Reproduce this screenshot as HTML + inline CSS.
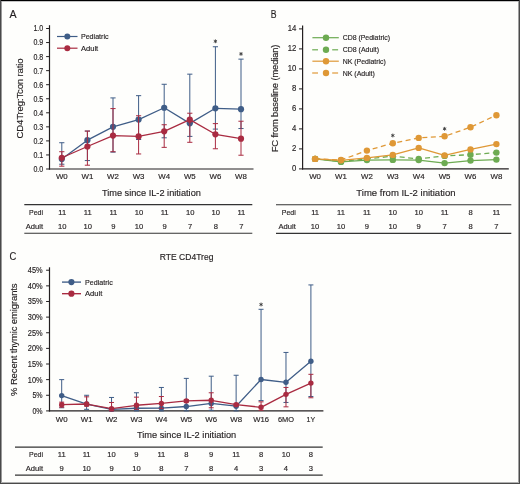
<!DOCTYPE html>
<html><head><meta charset="utf-8"><style>
html,body{margin:0;padding:0;background:#fefefc;}
#fig{position:absolute;left:0;top:0;width:520px;height:484px;overflow:hidden;background:#fefefc;}
svg text{font-family:"Liberation Sans", sans-serif;stroke:#231f20;stroke-width:0.16px;}
</style></head><body>
<div id="fig">
<svg width="520" height="484" viewBox="0 0 520 484" style="position:absolute;left:0;top:0;will-change:transform">
<text x="9.6" y="17.6" font-size="11.5" text-anchor="start" textLength="7.1" lengthAdjust="spacingAndGlyphs" fill="#231f20" >A</text>

<line x1="49.5" y1="25.2" x2="49.5" y2="169.6" stroke="#231f20" stroke-width="1.2" />
<line x1="48.9" y1="169.0" x2="253.5" y2="169.0" stroke="#231f20" stroke-width="1.2" />
<line x1="46.1" y1="169.0" x2="49.5" y2="169.0" stroke="#231f20" stroke-width="1.0" />
<text x="43.2" y="171.9" font-size="8.3" text-anchor="end" textLength="9.8" lengthAdjust="spacingAndGlyphs" fill="#231f20" >0.0</text>
<line x1="46.1" y1="154.95" x2="49.5" y2="154.95" stroke="#231f20" stroke-width="1.0" />
<text x="43.2" y="157.85" font-size="8.3" text-anchor="end" textLength="9.8" lengthAdjust="spacingAndGlyphs" fill="#231f20" >0.1</text>
<line x1="46.1" y1="140.9" x2="49.5" y2="140.9" stroke="#231f20" stroke-width="1.0" />
<text x="43.2" y="143.8" font-size="8.3" text-anchor="end" textLength="9.8" lengthAdjust="spacingAndGlyphs" fill="#231f20" >0.2</text>
<line x1="46.1" y1="126.85" x2="49.5" y2="126.85" stroke="#231f20" stroke-width="1.0" />
<text x="43.2" y="129.75" font-size="8.3" text-anchor="end" textLength="9.8" lengthAdjust="spacingAndGlyphs" fill="#231f20" >0.3</text>
<line x1="46.1" y1="112.8" x2="49.5" y2="112.8" stroke="#231f20" stroke-width="1.0" />
<text x="43.2" y="115.7" font-size="8.3" text-anchor="end" textLength="9.8" lengthAdjust="spacingAndGlyphs" fill="#231f20" >0.4</text>
<line x1="46.1" y1="98.75" x2="49.5" y2="98.75" stroke="#231f20" stroke-width="1.0" />
<text x="43.2" y="101.65" font-size="8.3" text-anchor="end" textLength="9.8" lengthAdjust="spacingAndGlyphs" fill="#231f20" >0.5</text>
<line x1="46.1" y1="84.7" x2="49.5" y2="84.7" stroke="#231f20" stroke-width="1.0" />
<text x="43.2" y="87.60000000000001" font-size="8.3" text-anchor="end" textLength="9.8" lengthAdjust="spacingAndGlyphs" fill="#231f20" >0.6</text>
<line x1="46.1" y1="70.65" x2="49.5" y2="70.65" stroke="#231f20" stroke-width="1.0" />
<text x="43.2" y="73.55000000000001" font-size="8.3" text-anchor="end" textLength="9.8" lengthAdjust="spacingAndGlyphs" fill="#231f20" >0.7</text>
<line x1="46.1" y1="56.599999999999994" x2="49.5" y2="56.599999999999994" stroke="#231f20" stroke-width="1.0" />
<text x="43.2" y="59.49999999999999" font-size="8.3" text-anchor="end" textLength="9.8" lengthAdjust="spacingAndGlyphs" fill="#231f20" >0.8</text>
<line x1="46.1" y1="42.55" x2="49.5" y2="42.55" stroke="#231f20" stroke-width="1.0" />
<text x="43.2" y="45.449999999999996" font-size="8.3" text-anchor="end" textLength="9.8" lengthAdjust="spacingAndGlyphs" fill="#231f20" >0.9</text>
<line x1="46.1" y1="28.5" x2="49.5" y2="28.5" stroke="#231f20" stroke-width="1.0" />
<text x="43.2" y="31.4" font-size="8.3" text-anchor="end" textLength="9.8" lengthAdjust="spacingAndGlyphs" fill="#231f20" >1.0</text>
<text transform="translate(22.8,98.5) rotate(-90)" x="0" y="0" font-size="9.6" text-anchor="middle" textLength="80" lengthAdjust="spacing" fill="#231f20" >CD4Treg:Tcon ratio</text>
<text x="61.8" y="179.0" font-size="8.0" text-anchor="middle" textLength="11.8" lengthAdjust="spacingAndGlyphs" fill="#231f20" >W0</text>
<text x="87.4" y="179.0" font-size="8.0" text-anchor="middle" textLength="11.8" lengthAdjust="spacingAndGlyphs" fill="#231f20" >W1</text>
<text x="113.0" y="179.0" font-size="8.0" text-anchor="middle" textLength="11.8" lengthAdjust="spacingAndGlyphs" fill="#231f20" >W2</text>
<text x="138.60000000000002" y="179.0" font-size="8.0" text-anchor="middle" textLength="11.8" lengthAdjust="spacingAndGlyphs" fill="#231f20" >W3</text>
<text x="164.2" y="179.0" font-size="8.0" text-anchor="middle" textLength="11.8" lengthAdjust="spacingAndGlyphs" fill="#231f20" >W4</text>
<text x="189.8" y="179.0" font-size="8.0" text-anchor="middle" textLength="11.8" lengthAdjust="spacingAndGlyphs" fill="#231f20" >W5</text>
<text x="215.40000000000003" y="179.0" font-size="8.0" text-anchor="middle" textLength="11.8" lengthAdjust="spacingAndGlyphs" fill="#231f20" >W6</text>
<text x="241.0" y="179.0" font-size="8.0" text-anchor="middle" textLength="11.8" lengthAdjust="spacingAndGlyphs" fill="#231f20" >W8</text>
<text x="151.4" y="196.1" font-size="9.8" text-anchor="middle" textLength="99" lengthAdjust="spacingAndGlyphs" fill="#231f20" >Time since IL-2 initiation</text>
<line x1="24.3" y1="204.6" x2="252.3" y2="204.6" stroke="#333" stroke-width="1.1" />
<line x1="24.3" y1="233.3" x2="252.3" y2="233.3" stroke="#333" stroke-width="1.1" />
<text x="43" y="215.0" font-size="7.6" text-anchor="end" textLength="14" lengthAdjust="spacingAndGlyphs" fill="#231f20" >Pedi</text>
<text x="43" y="229.4" font-size="7.6" text-anchor="end" textLength="17.3" lengthAdjust="spacingAndGlyphs" fill="#231f20" >Adult</text>
<text x="62.199999999999996" y="215.0" font-size="7.6" text-anchor="middle" fill="#231f20" >11</text>
<text x="62.199999999999996" y="229.4" font-size="7.6" text-anchor="middle" fill="#231f20" >10</text>
<text x="87.80000000000001" y="215.0" font-size="7.6" text-anchor="middle" fill="#231f20" >11</text>
<text x="87.80000000000001" y="229.4" font-size="7.6" text-anchor="middle" fill="#231f20" >10</text>
<text x="113.4" y="215.0" font-size="7.6" text-anchor="middle" fill="#231f20" >11</text>
<text x="113.4" y="229.4" font-size="7.6" text-anchor="middle" fill="#231f20" >9</text>
<text x="139.00000000000003" y="215.0" font-size="7.6" text-anchor="middle" fill="#231f20" >10</text>
<text x="139.00000000000003" y="229.4" font-size="7.6" text-anchor="middle" fill="#231f20" >10</text>
<text x="164.6" y="215.0" font-size="7.6" text-anchor="middle" fill="#231f20" >11</text>
<text x="164.6" y="229.4" font-size="7.6" text-anchor="middle" fill="#231f20" >9</text>
<text x="190.20000000000002" y="215.0" font-size="7.6" text-anchor="middle" fill="#231f20" >10</text>
<text x="190.20000000000002" y="229.4" font-size="7.6" text-anchor="middle" fill="#231f20" >7</text>
<text x="215.80000000000004" y="215.0" font-size="7.6" text-anchor="middle" fill="#231f20" >10</text>
<text x="215.80000000000004" y="229.4" font-size="7.6" text-anchor="middle" fill="#231f20" >8</text>
<text x="241.4" y="215.0" font-size="7.6" text-anchor="middle" fill="#231f20" >11</text>
<text x="241.4" y="229.4" font-size="7.6" text-anchor="middle" fill="#231f20" >7</text>
<line x1="61.8" y1="142.7265" x2="61.8" y2="164.223" stroke="#3f5d87" stroke-width="1.0" />
<line x1="59.199999999999996" y1="142.7265" x2="64.39999999999999" y2="142.7265" stroke="#3f5d87" stroke-width="1.0" />
<line x1="59.199999999999996" y1="164.223" x2="64.39999999999999" y2="164.223" stroke="#3f5d87" stroke-width="1.0" />
<line x1="87.4" y1="131.065" x2="87.4" y2="160.57" stroke="#3f5d87" stroke-width="1.0" />
<line x1="84.80000000000001" y1="131.065" x2="90.0" y2="131.065" stroke="#3f5d87" stroke-width="1.0" />
<line x1="84.80000000000001" y1="160.57" x2="90.0" y2="160.57" stroke="#3f5d87" stroke-width="1.0" />
<line x1="113.0" y1="97.907" x2="113.0" y2="152.14" stroke="#3f5d87" stroke-width="1.0" />
<line x1="110.4" y1="97.907" x2="115.6" y2="97.907" stroke="#3f5d87" stroke-width="1.0" />
<line x1="110.4" y1="152.14" x2="115.6" y2="152.14" stroke="#3f5d87" stroke-width="1.0" />
<line x1="138.60000000000002" y1="95.65899999999999" x2="138.60000000000002" y2="139.495" stroke="#3f5d87" stroke-width="1.0" />
<line x1="136.00000000000003" y1="95.65899999999999" x2="141.20000000000002" y2="95.65899999999999" stroke="#3f5d87" stroke-width="1.0" />
<line x1="136.00000000000003" y1="139.495" x2="141.20000000000002" y2="139.495" stroke="#3f5d87" stroke-width="1.0" />
<line x1="164.2" y1="84.27850000000001" x2="164.2" y2="137.809" stroke="#3f5d87" stroke-width="1.0" />
<line x1="161.6" y1="84.27850000000001" x2="166.79999999999998" y2="84.27850000000001" stroke="#3f5d87" stroke-width="1.0" />
<line x1="161.6" y1="137.809" x2="166.79999999999998" y2="137.809" stroke="#3f5d87" stroke-width="1.0" />
<line x1="189.8" y1="74.1625" x2="189.8" y2="136.404" stroke="#3f5d87" stroke-width="1.0" />
<line x1="187.20000000000002" y1="74.1625" x2="192.4" y2="74.1625" stroke="#3f5d87" stroke-width="1.0" />
<line x1="187.20000000000002" y1="136.404" x2="192.4" y2="136.404" stroke="#3f5d87" stroke-width="1.0" />
<line x1="215.40000000000003" y1="46.765" x2="215.40000000000003" y2="129.098" stroke="#3f5d87" stroke-width="1.0" />
<line x1="212.80000000000004" y1="46.765" x2="218.00000000000003" y2="46.765" stroke="#3f5d87" stroke-width="1.0" />
<line x1="212.80000000000004" y1="129.098" x2="218.00000000000003" y2="129.098" stroke="#3f5d87" stroke-width="1.0" />
<line x1="241.0" y1="59.12899999999999" x2="241.0" y2="128.536" stroke="#3f5d87" stroke-width="1.0" />
<line x1="238.4" y1="59.12899999999999" x2="243.6" y2="59.12899999999999" stroke="#3f5d87" stroke-width="1.0" />
<line x1="238.4" y1="128.536" x2="243.6" y2="128.536" stroke="#3f5d87" stroke-width="1.0" />
<polyline points="61.80,159.02 87.40,140.20 113.00,126.85 138.60,119.54 164.20,107.74 189.80,123.34 215.40,108.30 241.00,109.15" fill="none" stroke="#3f5d87" stroke-width="1.3" stroke-linejoin="round"/>
<circle cx="61.80" cy="159.02" r="3.1" fill="#3f5d87"/>
<circle cx="87.40" cy="140.20" r="3.1" fill="#3f5d87"/>
<circle cx="113.00" cy="126.85" r="3.1" fill="#3f5d87"/>
<circle cx="138.60" cy="119.54" r="3.1" fill="#3f5d87"/>
<circle cx="164.20" cy="107.74" r="3.1" fill="#3f5d87"/>
<circle cx="189.80" cy="123.34" r="3.1" fill="#3f5d87"/>
<circle cx="215.40" cy="108.30" r="3.1" fill="#3f5d87"/>
<circle cx="241.00" cy="109.15" r="3.1" fill="#3f5d87"/>
<line x1="61.8" y1="151.7185" x2="61.8" y2="166.19" stroke="#a92b41" stroke-width="1.0" />
<line x1="59.199999999999996" y1="151.7185" x2="64.39999999999999" y2="151.7185" stroke="#a92b41" stroke-width="1.0" />
<line x1="59.199999999999996" y1="166.19" x2="64.39999999999999" y2="166.19" stroke="#a92b41" stroke-width="1.0" />
<line x1="87.4" y1="131.065" x2="87.4" y2="165.2065" stroke="#a92b41" stroke-width="1.0" />
<line x1="84.80000000000001" y1="131.065" x2="90.0" y2="131.065" stroke="#a92b41" stroke-width="1.0" />
<line x1="84.80000000000001" y1="165.2065" x2="90.0" y2="165.2065" stroke="#a92b41" stroke-width="1.0" />
<line x1="113.0" y1="108.58500000000001" x2="113.0" y2="151.7185" stroke="#a92b41" stroke-width="1.0" />
<line x1="110.4" y1="108.58500000000001" x2="115.6" y2="108.58500000000001" stroke="#a92b41" stroke-width="1.0" />
<line x1="110.4" y1="151.7185" x2="115.6" y2="151.7185" stroke="#a92b41" stroke-width="1.0" />
<line x1="138.60000000000002" y1="115.7505" x2="138.60000000000002" y2="153.9665" stroke="#a92b41" stroke-width="1.0" />
<line x1="136.00000000000003" y1="115.7505" x2="141.20000000000002" y2="115.7505" stroke="#a92b41" stroke-width="1.0" />
<line x1="136.00000000000003" y1="153.9665" x2="141.20000000000002" y2="153.9665" stroke="#a92b41" stroke-width="1.0" />
<line x1="164.2" y1="124.7425" x2="164.2" y2="147.363" stroke="#a92b41" stroke-width="1.0" />
<line x1="161.6" y1="124.7425" x2="166.79999999999998" y2="124.7425" stroke="#a92b41" stroke-width="1.0" />
<line x1="161.6" y1="147.363" x2="166.79999999999998" y2="147.363" stroke="#a92b41" stroke-width="1.0" />
<line x1="189.8" y1="113.22149999999999" x2="189.8" y2="142.305" stroke="#a92b41" stroke-width="1.0" />
<line x1="187.20000000000002" y1="113.22149999999999" x2="192.4" y2="113.22149999999999" stroke="#a92b41" stroke-width="1.0" />
<line x1="187.20000000000002" y1="142.305" x2="192.4" y2="142.305" stroke="#a92b41" stroke-width="1.0" />
<line x1="215.40000000000003" y1="123.6185" x2="215.40000000000003" y2="148.768" stroke="#a92b41" stroke-width="1.0" />
<line x1="212.80000000000004" y1="123.6185" x2="218.00000000000003" y2="123.6185" stroke="#a92b41" stroke-width="1.0" />
<line x1="212.80000000000004" y1="148.768" x2="218.00000000000003" y2="148.768" stroke="#a92b41" stroke-width="1.0" />
<line x1="241.0" y1="121.22999999999999" x2="241.0" y2="155.231" stroke="#a92b41" stroke-width="1.0" />
<line x1="238.4" y1="121.22999999999999" x2="243.6" y2="121.22999999999999" stroke="#a92b41" stroke-width="1.0" />
<line x1="238.4" y1="155.231" x2="243.6" y2="155.231" stroke="#a92b41" stroke-width="1.0" />
<polyline points="61.80,157.76 87.40,146.52 113.00,135.56 138.60,136.40 164.20,131.35 189.80,119.68 215.40,134.30 241.00,138.65" fill="none" stroke="#a92b41" stroke-width="1.3" stroke-linejoin="round"/>
<circle cx="61.80" cy="157.76" r="3.1" fill="#a92b41"/>
<circle cx="87.40" cy="146.52" r="3.1" fill="#a92b41"/>
<circle cx="113.00" cy="135.56" r="3.1" fill="#a92b41"/>
<circle cx="138.60" cy="136.40" r="3.1" fill="#a92b41"/>
<circle cx="164.20" cy="131.35" r="3.1" fill="#a92b41"/>
<circle cx="189.80" cy="119.68" r="3.1" fill="#a92b41"/>
<circle cx="215.40" cy="134.30" r="3.1" fill="#a92b41"/>
<circle cx="241.00" cy="138.65" r="3.1" fill="#a92b41"/>
<path d="M215.40,39.40L215.40,43.20M217.05,40.35L213.75,42.25M217.05,42.25L213.75,40.35" stroke="#3a3a3a" stroke-width="0.9" fill="none"/>
<path d="M241.00,52.00L241.00,55.80M242.65,52.95L239.35,54.85M242.65,54.85L239.35,52.95" stroke="#3a3a3a" stroke-width="0.9" fill="none"/>
<line x1="57" y1="36.5" x2="77.5" y2="36.5" stroke="#3f5d87" stroke-width="1.2" />
<circle cx="67.30" cy="36.50" r="3.0" fill="#3f5d87"/>
<line x1="57" y1="48.2" x2="77.5" y2="48.2" stroke="#a92b41" stroke-width="1.2" />
<circle cx="67.30" cy="48.20" r="3.0" fill="#a92b41"/>
<text x="80.9" y="38.9" font-size="7.6" text-anchor="start" textLength="27.7" lengthAdjust="spacingAndGlyphs" fill="#231f20" >Pediatric</text>
<text x="80.9" y="50.7" font-size="7.6" text-anchor="start" textLength="17.3" lengthAdjust="spacingAndGlyphs" fill="#231f20" >Adult</text>
<text x="270.8" y="17.5" font-size="11.5" text-anchor="start" textLength="5.8" lengthAdjust="spacingAndGlyphs" fill="#231f20" >B</text>
<line x1="302.6" y1="25.6" x2="302.6" y2="169.5" stroke="#231f20" stroke-width="1.2" />
<line x1="302.0" y1="168.9" x2="508.8" y2="168.9" stroke="#231f20" stroke-width="1.2" />
<line x1="299.0" y1="168.9" x2="302.6" y2="168.9" stroke="#231f20" stroke-width="1.0" />
<text x="296.3" y="171.1" font-size="8.3" text-anchor="end" textLength="4.3" lengthAdjust="spacingAndGlyphs" fill="#231f20" >0</text>
<line x1="299.0" y1="148.9" x2="302.6" y2="148.9" stroke="#231f20" stroke-width="1.0" />
<text x="296.3" y="151.1" font-size="8.3" text-anchor="end" textLength="4.3" lengthAdjust="spacingAndGlyphs" fill="#231f20" >2</text>
<line x1="299.0" y1="128.9" x2="302.6" y2="128.9" stroke="#231f20" stroke-width="1.0" />
<text x="296.3" y="131.1" font-size="8.3" text-anchor="end" textLength="4.3" lengthAdjust="spacingAndGlyphs" fill="#231f20" >4</text>
<line x1="299.0" y1="108.9" x2="302.6" y2="108.9" stroke="#231f20" stroke-width="1.0" />
<text x="296.3" y="111.10000000000001" font-size="8.3" text-anchor="end" textLength="4.3" lengthAdjust="spacingAndGlyphs" fill="#231f20" >6</text>
<line x1="299.0" y1="88.9" x2="302.6" y2="88.9" stroke="#231f20" stroke-width="1.0" />
<text x="296.3" y="91.10000000000001" font-size="8.3" text-anchor="end" textLength="4.3" lengthAdjust="spacingAndGlyphs" fill="#231f20" >8</text>
<line x1="299.0" y1="68.9" x2="302.6" y2="68.9" stroke="#231f20" stroke-width="1.0" />
<text x="296.3" y="71.10000000000001" font-size="8.3" text-anchor="end" textLength="8.6" lengthAdjust="spacingAndGlyphs" fill="#231f20" >10</text>
<line x1="299.0" y1="48.900000000000006" x2="302.6" y2="48.900000000000006" stroke="#231f20" stroke-width="1.0" />
<text x="296.3" y="51.10000000000001" font-size="8.3" text-anchor="end" textLength="8.6" lengthAdjust="spacingAndGlyphs" fill="#231f20" >12</text>
<line x1="299.0" y1="28.900000000000006" x2="302.6" y2="28.900000000000006" stroke="#231f20" stroke-width="1.0" />
<text x="296.3" y="31.100000000000005" font-size="8.3" text-anchor="end" textLength="8.6" lengthAdjust="spacingAndGlyphs" fill="#231f20" >14</text>
<text transform="translate(277.9,98.4) rotate(-90)" x="0" y="0" font-size="9.4" text-anchor="middle" textLength="107.7" lengthAdjust="spacing" fill="#231f20" >FC from baseline (median)</text>
<text x="315.1" y="179.0" font-size="8.0" text-anchor="middle" textLength="11.8" lengthAdjust="spacingAndGlyphs" fill="#231f20" >W0</text>
<text x="341.0" y="179.0" font-size="8.0" text-anchor="middle" textLength="11.8" lengthAdjust="spacingAndGlyphs" fill="#231f20" >W1</text>
<text x="366.90000000000003" y="179.0" font-size="8.0" text-anchor="middle" textLength="11.8" lengthAdjust="spacingAndGlyphs" fill="#231f20" >W2</text>
<text x="392.8" y="179.0" font-size="8.0" text-anchor="middle" textLength="11.8" lengthAdjust="spacingAndGlyphs" fill="#231f20" >W3</text>
<text x="418.70000000000005" y="179.0" font-size="8.0" text-anchor="middle" textLength="11.8" lengthAdjust="spacingAndGlyphs" fill="#231f20" >W4</text>
<text x="444.6" y="179.0" font-size="8.0" text-anchor="middle" textLength="11.8" lengthAdjust="spacingAndGlyphs" fill="#231f20" >W5</text>
<text x="470.5" y="179.0" font-size="8.0" text-anchor="middle" textLength="11.8" lengthAdjust="spacingAndGlyphs" fill="#231f20" >W6</text>
<text x="496.4" y="179.0" font-size="8.0" text-anchor="middle" textLength="11.8" lengthAdjust="spacingAndGlyphs" fill="#231f20" >W8</text>
<text x="405.9" y="195.5" font-size="9.8" text-anchor="middle" textLength="99.2" lengthAdjust="spacingAndGlyphs" fill="#231f20" >Time from IL-2 initiation</text>
<line x1="276" y1="204.7" x2="511.3" y2="204.7" stroke="#333" stroke-width="1.1" />
<line x1="276" y1="233.4" x2="511.3" y2="233.4" stroke="#333" stroke-width="1.1" />
<text x="295.8" y="215.0" font-size="7.6" text-anchor="end" textLength="14" lengthAdjust="spacingAndGlyphs" fill="#231f20" >Pedi</text>
<text x="295.8" y="229.4" font-size="7.6" text-anchor="end" textLength="17.3" lengthAdjust="spacingAndGlyphs" fill="#231f20" >Adult</text>
<text x="315.1" y="215.0" font-size="7.6" text-anchor="middle" fill="#231f20" >11</text>
<text x="315.1" y="229.4" font-size="7.6" text-anchor="middle" fill="#231f20" >10</text>
<text x="341.0" y="215.0" font-size="7.6" text-anchor="middle" fill="#231f20" >11</text>
<text x="341.0" y="229.4" font-size="7.6" text-anchor="middle" fill="#231f20" >10</text>
<text x="366.90000000000003" y="215.0" font-size="7.6" text-anchor="middle" fill="#231f20" >11</text>
<text x="366.90000000000003" y="229.4" font-size="7.6" text-anchor="middle" fill="#231f20" >9</text>
<text x="392.8" y="215.0" font-size="7.6" text-anchor="middle" fill="#231f20" >10</text>
<text x="392.8" y="229.4" font-size="7.6" text-anchor="middle" fill="#231f20" >10</text>
<text x="418.70000000000005" y="215.0" font-size="7.6" text-anchor="middle" fill="#231f20" >10</text>
<text x="418.70000000000005" y="229.4" font-size="7.6" text-anchor="middle" fill="#231f20" >9</text>
<text x="444.6" y="215.0" font-size="7.6" text-anchor="middle" fill="#231f20" >11</text>
<text x="444.6" y="229.4" font-size="7.6" text-anchor="middle" fill="#231f20" >7</text>
<text x="470.5" y="215.0" font-size="7.6" text-anchor="middle" fill="#231f20" >8</text>
<text x="470.5" y="229.4" font-size="7.6" text-anchor="middle" fill="#231f20" >8</text>
<text x="496.4" y="215.0" font-size="7.6" text-anchor="middle" fill="#231f20" >11</text>
<text x="496.4" y="229.4" font-size="7.6" text-anchor="middle" fill="#231f20" >7</text>
<polyline points="315.10,158.90 341.00,161.40 366.90,158.90 392.80,156.20 418.70,158.90 444.60,155.90 470.50,154.70 496.40,152.60" fill="none" stroke="#6dab52" stroke-width="1.3" stroke-dasharray="5,3.5" stroke-linejoin="round"/>
<circle cx="315.10" cy="158.90" r="3.2" fill="#6dab52"/>
<circle cx="341.00" cy="161.40" r="3.2" fill="#6dab52"/>
<circle cx="366.90" cy="158.90" r="3.2" fill="#6dab52"/>
<circle cx="392.80" cy="156.20" r="3.2" fill="#6dab52"/>
<circle cx="418.70" cy="158.90" r="3.2" fill="#6dab52"/>
<circle cx="444.60" cy="155.90" r="3.2" fill="#6dab52"/>
<circle cx="470.50" cy="154.70" r="3.2" fill="#6dab52"/>
<circle cx="496.40" cy="152.60" r="3.2" fill="#6dab52"/>
<polyline points="315.10,158.90 341.00,161.90 366.90,160.10 392.80,159.90 418.70,160.10 444.60,163.10 470.50,160.60 496.40,159.60" fill="none" stroke="#6dab52" stroke-width="1.3" stroke-linejoin="round"/>
<circle cx="315.10" cy="158.90" r="3.2" fill="#6dab52"/>
<circle cx="341.00" cy="161.90" r="3.2" fill="#6dab52"/>
<circle cx="366.90" cy="160.10" r="3.2" fill="#6dab52"/>
<circle cx="392.80" cy="159.90" r="3.2" fill="#6dab52"/>
<circle cx="418.70" cy="160.10" r="3.2" fill="#6dab52"/>
<circle cx="444.60" cy="163.10" r="3.2" fill="#6dab52"/>
<circle cx="470.50" cy="160.60" r="3.2" fill="#6dab52"/>
<circle cx="496.40" cy="159.60" r="3.2" fill="#6dab52"/>
<polyline points="315.10,158.90 341.00,160.00 366.90,150.60 392.80,143.20 418.70,137.90 444.60,136.30 470.50,127.20 496.40,115.20" fill="none" stroke="#df9836" stroke-width="1.3" stroke-dasharray="5,3.5" stroke-linejoin="round"/>
<circle cx="315.10" cy="158.90" r="3.2" fill="#df9836"/>
<circle cx="341.00" cy="160.00" r="3.2" fill="#df9836"/>
<circle cx="366.90" cy="150.60" r="3.2" fill="#df9836"/>
<circle cx="392.80" cy="143.20" r="3.2" fill="#df9836"/>
<circle cx="418.70" cy="137.90" r="3.2" fill="#df9836"/>
<circle cx="444.60" cy="136.30" r="3.2" fill="#df9836"/>
<circle cx="470.50" cy="127.20" r="3.2" fill="#df9836"/>
<circle cx="496.40" cy="115.20" r="3.2" fill="#df9836"/>
<polyline points="315.10,158.90 341.00,160.30 366.90,157.90 392.80,154.90 418.70,147.90 444.60,155.40 470.50,149.40 496.40,144.10" fill="none" stroke="#df9836" stroke-width="1.3" stroke-linejoin="round"/>
<circle cx="315.10" cy="158.90" r="3.2" fill="#df9836"/>
<circle cx="341.00" cy="160.30" r="3.2" fill="#df9836"/>
<circle cx="366.90" cy="157.90" r="3.2" fill="#df9836"/>
<circle cx="392.80" cy="154.90" r="3.2" fill="#df9836"/>
<circle cx="418.70" cy="147.90" r="3.2" fill="#df9836"/>
<circle cx="444.60" cy="155.40" r="3.2" fill="#df9836"/>
<circle cx="470.50" cy="149.40" r="3.2" fill="#df9836"/>
<circle cx="496.40" cy="144.10" r="3.2" fill="#df9836"/>
<path d="M392.80,133.60L392.80,137.40M394.45,134.55L391.15,136.45M394.45,136.45L391.15,134.55" stroke="#3a3a3a" stroke-width="0.9" fill="none"/>
<path d="M444.60,126.90L444.60,130.70M446.25,127.85L442.95,129.75M446.25,129.75L442.95,127.85" stroke="#3a3a3a" stroke-width="0.9" fill="none"/>
<line x1="312.4" y1="37.7" x2="338.8" y2="37.7" stroke="#6dab52" stroke-width="1.2" />
<circle cx="326.00" cy="37.70" r="3.2" fill="#6dab52"/>
<text x="342.7" y="40.300000000000004" font-size="7.6" text-anchor="start" textLength="47.3" lengthAdjust="spacingAndGlyphs" fill="#231f20" >CD8 (Pediatric)</text>
<line x1="312.2" y1="49.8" x2="318" y2="49.8" stroke="#6dab52" stroke-width="1.2" />
<line x1="332.2" y1="49.8" x2="338.1" y2="49.8" stroke="#6dab52" stroke-width="1.2" />
<circle cx="326.00" cy="49.80" r="3.2" fill="#6dab52"/>
<text x="342.7" y="52.4" font-size="7.6" text-anchor="start" textLength="36.4" lengthAdjust="spacingAndGlyphs" fill="#231f20" >CD8 (Adult)</text>
<line x1="312.4" y1="61.2" x2="338.8" y2="61.2" stroke="#df9836" stroke-width="1.2" />
<circle cx="326.00" cy="61.20" r="3.2" fill="#df9836"/>
<text x="342.7" y="63.800000000000004" font-size="7.6" text-anchor="start" textLength="43.2" lengthAdjust="spacingAndGlyphs" fill="#231f20" >NK (Pediatric)</text>
<line x1="312.2" y1="73" x2="318" y2="73" stroke="#df9836" stroke-width="1.2" />
<line x1="332.2" y1="73" x2="338.1" y2="73" stroke="#df9836" stroke-width="1.2" />
<circle cx="326.00" cy="73.00" r="3.2" fill="#df9836"/>
<text x="342.7" y="75.6" font-size="7.6" text-anchor="start" textLength="32.2" lengthAdjust="spacingAndGlyphs" fill="#231f20" >NK (Adult)</text>
<text x="9.4" y="259.8" font-size="11.5" text-anchor="start" textLength="6.8" lengthAdjust="spacingAndGlyphs" fill="#231f20" >C</text>
<line x1="49.5" y1="267.3" x2="49.5" y2="411.5" stroke="#231f20" stroke-width="1.2" />
<line x1="48.9" y1="410.9" x2="323.4" y2="410.9" stroke="#231f20" stroke-width="1.2" />
<line x1="46.1" y1="410.9" x2="49.5" y2="410.9" stroke="#231f20" stroke-width="1.0" />
<text x="42.6" y="413.79999999999995" font-size="8.3" text-anchor="end" textLength="10.2" lengthAdjust="spacingAndGlyphs" fill="#231f20" >0%</text>
<line x1="46.1" y1="395.27" x2="49.5" y2="395.27" stroke="#231f20" stroke-width="1.0" />
<text x="42.6" y="398.16999999999996" font-size="8.3" text-anchor="end" textLength="10.2" lengthAdjust="spacingAndGlyphs" fill="#231f20" >5%</text>
<line x1="46.1" y1="379.64" x2="49.5" y2="379.64" stroke="#231f20" stroke-width="1.0" />
<text x="42.6" y="382.53999999999996" font-size="8.3" text-anchor="end" textLength="14.8" lengthAdjust="spacingAndGlyphs" fill="#231f20" >10%</text>
<line x1="46.1" y1="364.01" x2="49.5" y2="364.01" stroke="#231f20" stroke-width="1.0" />
<text x="42.6" y="366.90999999999997" font-size="8.3" text-anchor="end" textLength="14.8" lengthAdjust="spacingAndGlyphs" fill="#231f20" >15%</text>
<line x1="46.1" y1="348.38" x2="49.5" y2="348.38" stroke="#231f20" stroke-width="1.0" />
<text x="42.6" y="351.28" font-size="8.3" text-anchor="end" textLength="14.8" lengthAdjust="spacingAndGlyphs" fill="#231f20" >20%</text>
<line x1="46.1" y1="332.75" x2="49.5" y2="332.75" stroke="#231f20" stroke-width="1.0" />
<text x="42.6" y="335.65" font-size="8.3" text-anchor="end" textLength="14.8" lengthAdjust="spacingAndGlyphs" fill="#231f20" >25%</text>
<line x1="46.1" y1="317.11999999999995" x2="49.5" y2="317.11999999999995" stroke="#231f20" stroke-width="1.0" />
<text x="42.6" y="320.0199999999999" font-size="8.3" text-anchor="end" textLength="14.8" lengthAdjust="spacingAndGlyphs" fill="#231f20" >30%</text>
<line x1="46.1" y1="301.48999999999995" x2="49.5" y2="301.48999999999995" stroke="#231f20" stroke-width="1.0" />
<text x="42.6" y="304.38999999999993" font-size="8.3" text-anchor="end" textLength="14.8" lengthAdjust="spacingAndGlyphs" fill="#231f20" >35%</text>
<line x1="46.1" y1="285.85999999999996" x2="49.5" y2="285.85999999999996" stroke="#231f20" stroke-width="1.0" />
<text x="42.6" y="288.75999999999993" font-size="8.3" text-anchor="end" textLength="14.8" lengthAdjust="spacingAndGlyphs" fill="#231f20" >40%</text>
<line x1="46.1" y1="270.22999999999996" x2="49.5" y2="270.22999999999996" stroke="#231f20" stroke-width="1.0" />
<text x="42.6" y="273.12999999999994" font-size="8.3" text-anchor="end" textLength="14.8" lengthAdjust="spacingAndGlyphs" fill="#231f20" >45%</text>
<text transform="translate(17.4,339.7) rotate(-90)" x="0" y="0" font-size="9.5" text-anchor="middle" textLength="112.5" lengthAdjust="spacing" fill="#231f20" >% Recent thymic emigrants</text>
<text x="186.6" y="259.8" font-size="9.2" text-anchor="middle" textLength="53.7" lengthAdjust="spacingAndGlyphs" fill="#231f20" >RTE CD4Treg</text>
<text x="61.7" y="421.5" font-size="8.0" text-anchor="middle" textLength="11.8" lengthAdjust="spacingAndGlyphs" fill="#231f20" >W0</text>
<text x="86.62" y="421.5" font-size="8.0" text-anchor="middle" textLength="11.8" lengthAdjust="spacingAndGlyphs" fill="#231f20" >W1</text>
<text x="111.54" y="421.5" font-size="8.0" text-anchor="middle" textLength="11.8" lengthAdjust="spacingAndGlyphs" fill="#231f20" >W2</text>
<text x="136.46" y="421.5" font-size="8.0" text-anchor="middle" textLength="11.8" lengthAdjust="spacingAndGlyphs" fill="#231f20" >W3</text>
<text x="161.38" y="421.5" font-size="8.0" text-anchor="middle" textLength="11.8" lengthAdjust="spacingAndGlyphs" fill="#231f20" >W4</text>
<text x="186.3" y="421.5" font-size="8.0" text-anchor="middle" textLength="11.8" lengthAdjust="spacingAndGlyphs" fill="#231f20" >W5</text>
<text x="211.22000000000003" y="421.5" font-size="8.0" text-anchor="middle" textLength="11.8" lengthAdjust="spacingAndGlyphs" fill="#231f20" >W6</text>
<text x="236.14" y="421.5" font-size="8.0" text-anchor="middle" textLength="11.8" lengthAdjust="spacingAndGlyphs" fill="#231f20" >W8</text>
<text x="261.06" y="421.5" font-size="8.0" text-anchor="middle" textLength="15.7" lengthAdjust="spacingAndGlyphs" fill="#231f20" >W16</text>
<text x="285.98" y="421.5" font-size="8.0" text-anchor="middle" textLength="16.1" lengthAdjust="spacingAndGlyphs" fill="#231f20" >6MO</text>
<text x="310.90000000000003" y="421.5" font-size="8.0" text-anchor="middle" textLength="8.6" lengthAdjust="spacingAndGlyphs" fill="#231f20" >1Y</text>
<text x="186.6" y="438.3" font-size="9.8" text-anchor="middle" textLength="99.3" lengthAdjust="spacingAndGlyphs" fill="#231f20" >Time since IL-2 initiation</text>
<line x1="15" y1="447.1" x2="322.7" y2="447.1" stroke="#333" stroke-width="1.1" />
<line x1="15" y1="475.1" x2="322.7" y2="475.1" stroke="#333" stroke-width="1.1" />
<text x="43" y="457.4" font-size="7.6" text-anchor="end" textLength="14" lengthAdjust="spacingAndGlyphs" fill="#231f20" >Pedi</text>
<text x="43" y="471.2" font-size="7.6" text-anchor="end" textLength="17.3" lengthAdjust="spacingAndGlyphs" fill="#231f20" >Adult</text>
<text x="61.7" y="457.4" font-size="7.6" text-anchor="middle" fill="#231f20" >11</text>
<text x="61.7" y="471.2" font-size="7.6" text-anchor="middle" fill="#231f20" >9</text>
<text x="86.62" y="457.4" font-size="7.6" text-anchor="middle" fill="#231f20" >11</text>
<text x="86.62" y="471.2" font-size="7.6" text-anchor="middle" fill="#231f20" >10</text>
<text x="111.54" y="457.4" font-size="7.6" text-anchor="middle" fill="#231f20" >10</text>
<text x="111.54" y="471.2" font-size="7.6" text-anchor="middle" fill="#231f20" >9</text>
<text x="136.46" y="457.4" font-size="7.6" text-anchor="middle" fill="#231f20" >9</text>
<text x="136.46" y="471.2" font-size="7.6" text-anchor="middle" fill="#231f20" >10</text>
<text x="161.38" y="457.4" font-size="7.6" text-anchor="middle" fill="#231f20" >11</text>
<text x="161.38" y="471.2" font-size="7.6" text-anchor="middle" fill="#231f20" >8</text>
<text x="186.3" y="457.4" font-size="7.6" text-anchor="middle" fill="#231f20" >8</text>
<text x="186.3" y="471.2" font-size="7.6" text-anchor="middle" fill="#231f20" >7</text>
<text x="211.22000000000003" y="457.4" font-size="7.6" text-anchor="middle" fill="#231f20" >9</text>
<text x="211.22000000000003" y="471.2" font-size="7.6" text-anchor="middle" fill="#231f20" >8</text>
<text x="236.14" y="457.4" font-size="7.6" text-anchor="middle" fill="#231f20" >11</text>
<text x="236.14" y="471.2" font-size="7.6" text-anchor="middle" fill="#231f20" >4</text>
<text x="261.06" y="457.4" font-size="7.6" text-anchor="middle" fill="#231f20" >8</text>
<text x="261.06" y="471.2" font-size="7.6" text-anchor="middle" fill="#231f20" >3</text>
<text x="285.98" y="457.4" font-size="7.6" text-anchor="middle" fill="#231f20" >10</text>
<text x="285.98" y="471.2" font-size="7.6" text-anchor="middle" fill="#231f20" >4</text>
<text x="310.90000000000003" y="457.4" font-size="7.6" text-anchor="middle" fill="#231f20" >8</text>
<text x="310.90000000000003" y="471.2" font-size="7.6" text-anchor="middle" fill="#231f20" >3</text>
<line x1="61.7" y1="379.64" x2="61.7" y2="407.774" stroke="#3f5d87" stroke-width="1.0" />
<line x1="59.2" y1="379.64" x2="64.2" y2="379.64" stroke="#3f5d87" stroke-width="1.0" />
<line x1="59.2" y1="407.774" x2="64.2" y2="407.774" stroke="#3f5d87" stroke-width="1.0" />
<line x1="86.62" y1="395.27" x2="86.62" y2="409.337" stroke="#3f5d87" stroke-width="1.0" />
<line x1="84.12" y1="395.27" x2="89.12" y2="395.27" stroke="#3f5d87" stroke-width="1.0" />
<line x1="84.12" y1="409.337" x2="89.12" y2="409.337" stroke="#3f5d87" stroke-width="1.0" />
<line x1="111.54" y1="397.4582" x2="111.54" y2="410.9" stroke="#3f5d87" stroke-width="1.0" />
<line x1="109.04" y1="397.4582" x2="114.04" y2="397.4582" stroke="#3f5d87" stroke-width="1.0" />
<line x1="109.04" y1="410.9" x2="114.04" y2="410.9" stroke="#3f5d87" stroke-width="1.0" />
<line x1="136.46" y1="392.76919999999996" x2="136.46" y2="410.9" stroke="#3f5d87" stroke-width="1.0" />
<line x1="133.96" y1="392.76919999999996" x2="138.96" y2="392.76919999999996" stroke="#3f5d87" stroke-width="1.0" />
<line x1="133.96" y1="410.9" x2="138.96" y2="410.9" stroke="#3f5d87" stroke-width="1.0" />
<line x1="161.38" y1="387.455" x2="161.38" y2="410.9" stroke="#3f5d87" stroke-width="1.0" />
<line x1="158.88" y1="387.455" x2="163.88" y2="387.455" stroke="#3f5d87" stroke-width="1.0" />
<line x1="158.88" y1="410.9" x2="163.88" y2="410.9" stroke="#3f5d87" stroke-width="1.0" />
<line x1="186.3" y1="378.3896" x2="186.3" y2="410.9" stroke="#3f5d87" stroke-width="1.0" />
<line x1="183.8" y1="378.3896" x2="188.8" y2="378.3896" stroke="#3f5d87" stroke-width="1.0" />
<line x1="183.8" y1="410.9" x2="188.8" y2="410.9" stroke="#3f5d87" stroke-width="1.0" />
<line x1="211.22000000000003" y1="376.2014" x2="211.22000000000003" y2="410.27479999999997" stroke="#3f5d87" stroke-width="1.0" />
<line x1="208.72000000000003" y1="376.2014" x2="213.72000000000003" y2="376.2014" stroke="#3f5d87" stroke-width="1.0" />
<line x1="208.72000000000003" y1="410.27479999999997" x2="213.72000000000003" y2="410.27479999999997" stroke="#3f5d87" stroke-width="1.0" />
<line x1="236.14" y1="375.2636" x2="236.14" y2="410.9" stroke="#3f5d87" stroke-width="1.0" />
<line x1="233.64" y1="375.2636" x2="238.64" y2="375.2636" stroke="#3f5d87" stroke-width="1.0" />
<line x1="233.64" y1="410.9" x2="238.64" y2="410.9" stroke="#3f5d87" stroke-width="1.0" />
<line x1="261.06" y1="309.30499999999995" x2="261.06" y2="400.58419999999995" stroke="#3f5d87" stroke-width="1.0" />
<line x1="258.56" y1="309.30499999999995" x2="263.56" y2="309.30499999999995" stroke="#3f5d87" stroke-width="1.0" />
<line x1="258.56" y1="400.58419999999995" x2="263.56" y2="400.58419999999995" stroke="#3f5d87" stroke-width="1.0" />
<line x1="285.98" y1="352.44379999999995" x2="285.98" y2="402.4598" stroke="#3f5d87" stroke-width="1.0" />
<line x1="283.48" y1="352.44379999999995" x2="288.48" y2="352.44379999999995" stroke="#3f5d87" stroke-width="1.0" />
<line x1="283.48" y1="402.4598" x2="288.48" y2="402.4598" stroke="#3f5d87" stroke-width="1.0" />
<line x1="310.90000000000003" y1="284.9222" x2="310.90000000000003" y2="396.5204" stroke="#3f5d87" stroke-width="1.0" />
<line x1="308.40000000000003" y1="284.9222" x2="313.40000000000003" y2="284.9222" stroke="#3f5d87" stroke-width="1.0" />
<line x1="308.40000000000003" y1="396.5204" x2="313.40000000000003" y2="396.5204" stroke="#3f5d87" stroke-width="1.0" />
<polyline points="61.70,395.58 86.62,404.02 111.54,409.34 136.46,408.24 161.38,408.09 186.30,406.52 211.22,403.40 236.14,406.21 261.06,379.48 285.98,382.30 310.90,361.20" fill="none" stroke="#3f5d87" stroke-width="1.3" stroke-linejoin="round"/>
<circle cx="61.70" cy="395.58" r="2.7" fill="#3f5d87"/>
<circle cx="86.62" cy="404.02" r="2.7" fill="#3f5d87"/>
<circle cx="111.54" cy="409.34" r="2.7" fill="#3f5d87"/>
<circle cx="136.46" cy="408.24" r="2.7" fill="#3f5d87"/>
<circle cx="161.38" cy="408.09" r="2.7" fill="#3f5d87"/>
<circle cx="186.30" cy="406.52" r="2.7" fill="#3f5d87"/>
<circle cx="211.22" cy="403.40" r="2.7" fill="#3f5d87"/>
<circle cx="236.14" cy="406.21" r="2.7" fill="#3f5d87"/>
<circle cx="261.06" cy="379.48" r="2.7" fill="#3f5d87"/>
<circle cx="285.98" cy="382.30" r="2.7" fill="#3f5d87"/>
<circle cx="310.90" cy="361.20" r="2.7" fill="#3f5d87"/>
<line x1="61.7" y1="402.1472" x2="61.7" y2="407.1488" stroke="#a92b41" stroke-width="1.0" />
<line x1="59.2" y1="402.1472" x2="64.2" y2="402.1472" stroke="#a92b41" stroke-width="1.0" />
<line x1="59.2" y1="407.1488" x2="64.2" y2="407.1488" stroke="#a92b41" stroke-width="1.0" />
<line x1="86.62" y1="396.83299999999997" x2="86.62" y2="406.21099999999996" stroke="#a92b41" stroke-width="1.0" />
<line x1="84.12" y1="396.83299999999997" x2="89.12" y2="396.83299999999997" stroke="#a92b41" stroke-width="1.0" />
<line x1="84.12" y1="406.21099999999996" x2="89.12" y2="406.21099999999996" stroke="#a92b41" stroke-width="1.0" />
<line x1="111.54" y1="402.4598" x2="111.54" y2="410.9" stroke="#a92b41" stroke-width="1.0" />
<line x1="109.04" y1="402.4598" x2="114.04" y2="402.4598" stroke="#a92b41" stroke-width="1.0" />
<line x1="109.04" y1="410.9" x2="114.04" y2="410.9" stroke="#a92b41" stroke-width="1.0" />
<line x1="136.46" y1="397.1456" x2="136.46" y2="409.337" stroke="#a92b41" stroke-width="1.0" />
<line x1="133.96" y1="397.1456" x2="138.96" y2="397.1456" stroke="#a92b41" stroke-width="1.0" />
<line x1="133.96" y1="409.337" x2="138.96" y2="409.337" stroke="#a92b41" stroke-width="1.0" />
<line x1="161.38" y1="396.5204" x2="161.38" y2="408.39919999999995" stroke="#a92b41" stroke-width="1.0" />
<line x1="158.88" y1="396.5204" x2="163.88" y2="396.5204" stroke="#a92b41" stroke-width="1.0" />
<line x1="158.88" y1="408.39919999999995" x2="163.88" y2="408.39919999999995" stroke="#a92b41" stroke-width="1.0" />
<line x1="186.3" y1="399.64639999999997" x2="186.3" y2="402.1472" stroke="#a92b41" stroke-width="1.0" />
<line x1="183.8" y1="399.64639999999997" x2="188.8" y2="399.64639999999997" stroke="#a92b41" stroke-width="1.0" />
<line x1="183.8" y1="402.1472" x2="188.8" y2="402.1472" stroke="#a92b41" stroke-width="1.0" />
<line x1="211.22000000000003" y1="392.76919999999996" x2="211.22000000000003" y2="407.774" stroke="#a92b41" stroke-width="1.0" />
<line x1="208.72000000000003" y1="392.76919999999996" x2="213.72000000000003" y2="392.76919999999996" stroke="#a92b41" stroke-width="1.0" />
<line x1="208.72000000000003" y1="407.774" x2="213.72000000000003" y2="407.774" stroke="#a92b41" stroke-width="1.0" />
<line x1="236.14" y1="403.39759999999995" x2="236.14" y2="405.8984" stroke="#a92b41" stroke-width="1.0" />
<line x1="233.64" y1="403.39759999999995" x2="238.64" y2="403.39759999999995" stroke="#a92b41" stroke-width="1.0" />
<line x1="233.64" y1="405.8984" x2="238.64" y2="405.8984" stroke="#a92b41" stroke-width="1.0" />
<line x1="261.06" y1="401.83459999999997" x2="261.06" y2="410.27479999999997" stroke="#a92b41" stroke-width="1.0" />
<line x1="258.56" y1="401.83459999999997" x2="263.56" y2="401.83459999999997" stroke="#a92b41" stroke-width="1.0" />
<line x1="258.56" y1="410.27479999999997" x2="263.56" y2="410.27479999999997" stroke="#a92b41" stroke-width="1.0" />
<line x1="285.98" y1="387.455" x2="285.98" y2="406.83619999999996" stroke="#a92b41" stroke-width="1.0" />
<line x1="283.48" y1="387.455" x2="288.48" y2="387.455" stroke="#a92b41" stroke-width="1.0" />
<line x1="283.48" y1="406.83619999999996" x2="288.48" y2="406.83619999999996" stroke="#a92b41" stroke-width="1.0" />
<line x1="310.90000000000003" y1="374.32579999999996" x2="310.90000000000003" y2="397.77079999999995" stroke="#a92b41" stroke-width="1.0" />
<line x1="308.40000000000003" y1="374.32579999999996" x2="313.40000000000003" y2="374.32579999999996" stroke="#a92b41" stroke-width="1.0" />
<line x1="308.40000000000003" y1="397.77079999999995" x2="313.40000000000003" y2="397.77079999999995" stroke="#a92b41" stroke-width="1.0" />
<polyline points="61.70,404.65 86.62,404.02 111.54,408.71 136.46,405.27 161.38,403.40 186.30,400.90 211.22,400.27 236.14,404.65 261.06,407.31 285.98,394.33 310.90,383.08" fill="none" stroke="#a92b41" stroke-width="1.3" stroke-linejoin="round"/>
<circle cx="61.70" cy="404.65" r="2.7" fill="#a92b41"/>
<circle cx="86.62" cy="404.02" r="2.7" fill="#a92b41"/>
<circle cx="111.54" cy="408.71" r="2.7" fill="#a92b41"/>
<circle cx="136.46" cy="405.27" r="2.7" fill="#a92b41"/>
<circle cx="161.38" cy="403.40" r="2.7" fill="#a92b41"/>
<circle cx="186.30" cy="400.90" r="2.7" fill="#a92b41"/>
<circle cx="211.22" cy="400.27" r="2.7" fill="#a92b41"/>
<circle cx="236.14" cy="404.65" r="2.7" fill="#a92b41"/>
<circle cx="261.06" cy="407.31" r="2.7" fill="#a92b41"/>
<circle cx="285.98" cy="394.33" r="2.7" fill="#a92b41"/>
<circle cx="310.90" cy="383.08" r="2.7" fill="#a92b41"/>
<path d="M261.06,302.60L261.06,306.40M262.71,303.55L259.41,305.45M262.71,305.45L259.41,303.55" stroke="#3a3a3a" stroke-width="0.9" fill="none"/>
<line x1="62" y1="282.1" x2="81" y2="282.1" stroke="#3f5d87" stroke-width="1.35" />
<circle cx="71.40" cy="282.10" r="3.1" fill="#3f5d87"/>
<line x1="62" y1="293.7" x2="81" y2="293.7" stroke="#a92b41" stroke-width="1.35" />
<circle cx="71.40" cy="293.70" r="3.1" fill="#a92b41"/>
<text x="85" y="284.6" font-size="7.6" text-anchor="start" textLength="27.7" lengthAdjust="spacingAndGlyphs" fill="#231f20" >Pediatric</text>
<text x="85" y="296.2" font-size="7.6" text-anchor="start" textLength="17.3" lengthAdjust="spacingAndGlyphs" fill="#231f20" >Adult</text>
</svg>
<div style="position:absolute;left:0;top:0;width:520px;height:1px;background:#000"></div>
<div style="position:absolute;left:1px;top:1px;width:518px;height:1px;background:#c4c4c4"></div>
<div style="position:absolute;left:0;top:0;width:1px;height:484px;background:#4a4a4a"></div>
<div style="position:absolute;left:1px;top:1px;width:1px;height:482px;background:#9a9a9a"></div>
<div style="position:absolute;left:519px;top:0;width:1px;height:484px;background:#4a4a4a"></div>
<div style="position:absolute;left:518px;top:1px;width:1px;height:482px;background:#a0a0a0"></div>
<div style="position:absolute;left:0;top:483px;width:520px;height:1px;background:#4a4a4a"></div>
<div style="position:absolute;left:1px;top:482px;width:518px;height:1px;background:#b0b0b0"></div>
</div>
</body></html>
